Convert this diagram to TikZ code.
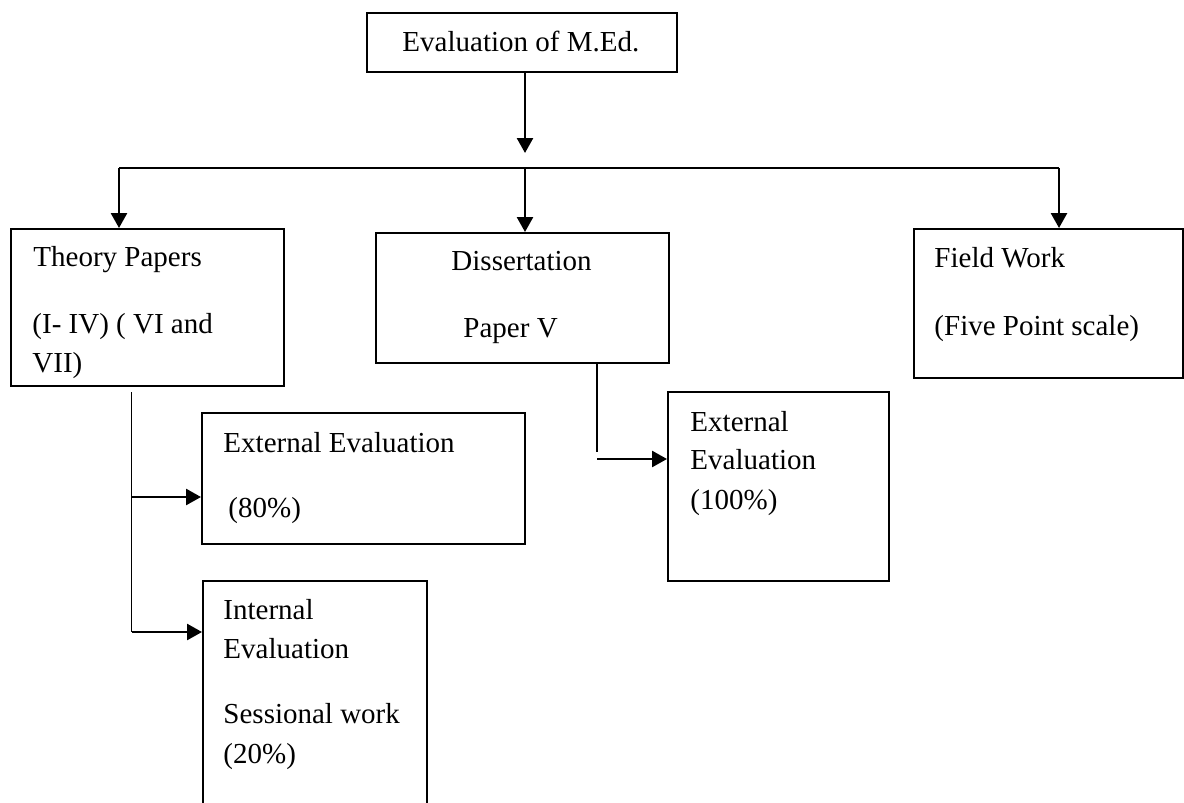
\documentclass[tikz,border=0pt]{standalone}
\usepackage{fontspec}
\setmainfont{Liberation Serif}
\usetikzlibrary{arrows.meta,fit}

\tikzset{
  box/.style={draw,line width=.8pt,inner sep=0pt},
  txt/.style={anchor=base west,inner sep=0pt,font=\fontsize{12}{14}\selectfont},
  arr/.style={line width=1.1pt,-{Triangle[length=6.2pt,width=6.6pt]}},
  stem/.style={line width=.6pt}
}

\begin{document}
\begin{tikzpicture}[x=0.4138pt,y=-0.4138pt]
		\useasboundingbox (0,0) rectangle (1184,803);
		\clip (0,0) rectangle (1184,803);
		% boxes
		\node[box,fit={(367,13) (677,72)}] (top) {};
		\node[box,fit={(11,229) (284,386)}] (theory) {};
		\node[box,fit={(376,233) (669,363)}] (diss) {};
		\node[box,fit={(914,229) (1183,378)}] (field) {};
		\node[box,fit={(202,413) (525,544)}] (ext) {};
		\node[box,fit={(668,392) (889,581)}] (hund) {};
		\node[box,fit={(203,581) (427,840)}] (int) {};
		% texts
		\node[txt] (toptxt) at (402,52) {Evaluation of M.Ed.};
		\node[txt] (theoryA) at (33,267) {Theory Papers};
		\node[txt] (theoryB) at (32,333) {(I- IV) ( VI and};
		\node[txt] (theoryC) at (32,372) {VII)};
		\node[txt] (dissA) at (451,271) {Dissertation};
		\node[txt] (dissB) at (463,337) {Paper V};
		\node[txt] (fieldA) at (934,268) {Field Work};
		\node[txt] (fieldB) at (934,335) {(Five Point scale)};
		\node[txt] (extA) at (223,452) {External Evaluation};
		\node[txt] (extB) at (228,517) {(80\%)};
		\node[txt] (hundA) at (690,431) {External};
		\node[txt] (hundB) at (690,469) {Evaluation};
		\node[txt] (hundC) at (690,509) {(100\%)};
		\node[txt] (intA) at (223,619) {Internal};
		\node[txt] (intB) at (223,658) {Evaluation};
		\node[txt] (intC) at (223,723) {Sessional work};
		\node[txt] (intD) at (223,763) {(20\%)};
		% connectors
		\coordinate (hub) at (525,153);
		\coordinate (barL) at (119,168);
		\coordinate (barM) at (525,168);
		\coordinate (barR) at (1059,168);
		\coordinate (tstem) at (131.6,392);
		\coordinate (t80) at (131.6,497);
		\coordinate (t20) at (131.6,632);
		\coordinate (dstem) at (597,452);
		\coordinate (d100) at (597,459);
		\draw[arr] (top.south -| hub) -- (hub);
		\draw[line width=1.1pt] (barL) -- (barR);
		\draw[arr] (barL) -- (barL |- theory.north);
		\draw[arr] (barM) -- (barM |- diss.north);
		\draw[arr] (barR) -- (barR |- field.north);
		\draw[stem] (tstem) -- (t20);
		\draw[arr] (t80) -- (t80 -| ext.west);
		\draw[arr] (t20) -- (t20 -| int.west);
		\draw[stem] (dstem |- diss.south) -- (dstem);
		\draw[arr] (d100) -- (d100 -| hund.west);
\end{tikzpicture}
\end{document}
